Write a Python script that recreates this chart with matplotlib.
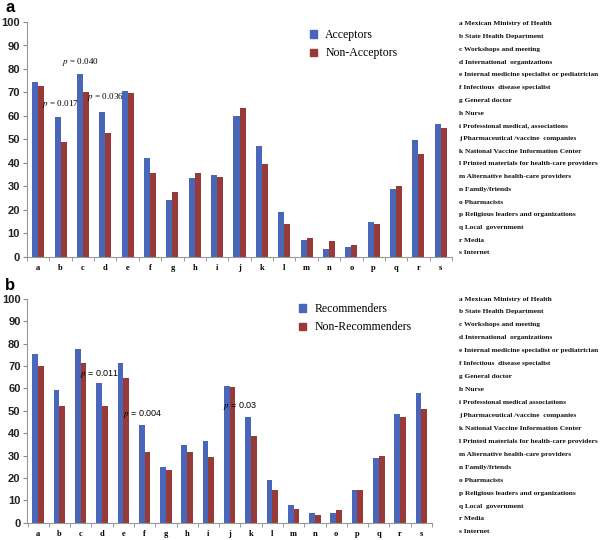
import matplotlib
matplotlib.use("Agg")
import matplotlib.pyplot as plt
from matplotlib.patches import Patch
import numpy as np

categories = list("abcdefghijklmnopqrs")
source_names = [
    "a Mexican Ministry of Health",
    "b State Health Department",
    "c Workshops and meeting",
    "d International  organizations",
    "e Internal medicine specialist or pediatrician",
    "f Infectious  disease specialist",
    "g General doctor",
    "h Nurse",
    "i Professional medical, associations",
    "j Pharmaceutical /vaccine  companies",
    "k National Vaccine Information Center",
    "l Printed materials for health-care providers",
    "m Alternative health-care providers",
    "n Family/friends",
    "o Pharmacists",
    "p Religious leaders and organizations",
    "q Local  government",
    "r Media",
    "s Internet",
]
source_names_b = list(source_names)
source_names_b[8] = "i Professional medical associations"

acceptors = [74.6, 59.4, 78.0, 61.8, 70.5, 42.3, 24.3, 33.7, 35.0, 60.1, 47.4, 19.3, 7.4, 3.3, 4.3, 14.9, 29.0, 49.6, 56.6]
non_acceptors = [72.8, 49.1, 70.1, 52.9, 69.6, 35.7, 27.6, 35.7, 34.0, 63.3, 39.4, 13.9, 7.9, 6.6, 5.1, 13.9, 30.0, 44.0, 55.0]

recommenders = [75.2, 59.1, 77.8, 62.4, 71.6, 43.6, 25.0, 34.6, 36.5, 61.2, 47.4, 19.1, 7.8, 4.2, 4.2, 14.6, 29.1, 48.7, 57.8]
non_recommenders = [70.0, 52.2, 71.6, 52.1, 64.5, 31.5, 23.4, 31.8, 29.2, 60.5, 38.7, 14.5, 6.2, 3.3, 5.7, 14.6, 30.0, 47.1, 50.7]

# p-value annotations: (label, x position in category units, y value)
p_a = [("0.040", 1.9, 83.0), ("0.017", 0.98, 65.0), ("0.036", 3.0, 68.0)]
p_b = [("0.011", 2.9, 66.5), ("0.004", 4.9, 48.6), ("0.03", 9.5, 52.3)]

BLUE = "#4A66B8"
RED = "#983A38"

plt.rcParams["mathtext.fontset"] = "stix"

W, H = 600, 540
fig = plt.figure(figsize=(6, 5.4), dpi=100)


def px_axes(l, r, t, b):
    return fig.add_axes([l / W, 1 - b / H, (r - l) / W, (b - t) / H])


def draw_panel(ax, s1, s2, ptexts, pfamily):
    x = np.arange(len(categories))
    bw = 0.27
    ax.bar(x - bw / 2, s1, bw, color=BLUE, linewidth=0)
    ax.bar(x + bw / 2, s2, bw, color=RED, linewidth=0)
    ax.set_xlim(-0.5, len(categories) - 0.5)
    ax.set_ylim(0, 100)
    ax.set_yticks(range(0, 101, 10))
    ax.set_yticklabels([str(v) for v in range(0, 101, 10)],
                       fontsize=8, fontweight="bold", family="Liberation Sans", color="#222222")
    ax.set_xticks(x)
    ax.set_xticklabels(categories, fontsize=6, fontweight="bold", family="Liberation Serif")
    ax.set_xticks(np.arange(-0.5, len(categories), 1), minor=True)
    ax.tick_params(axis="x", which="major", length=0, pad=5)
    ax.tick_params(axis="x", which="minor", length=3, color="#888888", direction="out")
    ax.tick_params(axis="y", length=3, color="#888888", pad=2)
    for s in ("top", "right"):
        ax.spines[s].set_visible(False)
    ax.spines["left"].set_color("#999999")
    ax.spines["bottom"].set_color("#999999")
    for lab, xp, yp in ptexts:
        ax.text(xp, yp, "$p$ = " + lab, ha="center", va="center",
                fontsize=6.5, family=pfamily)


ax_a = px_axes(27, 452, 22, 257)
draw_panel(ax_a, acceptors, non_acceptors, p_a, "Liberation Serif")
ax_b = px_axes(27.5, 432, 299, 522.7)
draw_panel(ax_b, recommenders, non_recommenders, p_b, "Liberation Sans")

fig.text(5 / W, 1 - 8 / H, "a", fontsize=12, fontweight="bold", family="Liberation Sans", va="center")
fig.text(5 / W, 1 - 285 / H, "b", fontsize=12, fontweight="bold", family="Liberation Sans", va="center")

leg_kw = dict(frameon=False, handlelength=0.6, handleheight=0.6, handletextpad=0.7,
              labelspacing=0.55, borderpad=0, borderaxespad=0, loc="upper left",
              prop={"family": "Liberation Serif", "size": 8.5})
fig.legend([Patch(color=BLUE), Patch(color=RED)], ["Acceptors", "Non-Acceptors"],
           bbox_to_anchor=(310 / W, 1 - 29 / H), **leg_kw)
fig.legend([Patch(color=BLUE), Patch(color=RED)], ["Recommenders", "Non-Recommenders"],
           bbox_to_anchor=(299 / W, 1 - 303 / H), **leg_kw)

for i, name in enumerate(source_names):
    fig.text(459 / W, 1 - (24 + i * 12.72) / H, name, fontsize=5.3,
             family="Liberation Serif", fontweight="bold", va="center", color="#111111")
for i, name in enumerate(source_names_b):
    fig.text(459 / W, 1 - (299 + i * 12.94) / H, name, fontsize=5.3,
             family="Liberation Serif", fontweight="bold", va="center", color="#111111")

fig.savefig("out.png", dpi=100)
